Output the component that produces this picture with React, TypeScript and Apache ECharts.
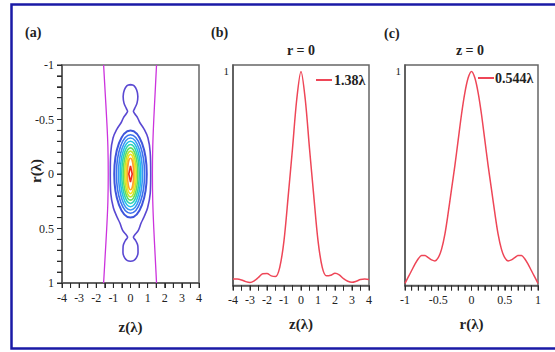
import React, { useEffect, useRef } from "react";
import * as echarts from "echarts";

// ---- Panel (b): on-axis intensity, r = 0 ----
const zB = [-4, -3.75, -3.5, -3.25, -3, -2.75, -2.5, -2.25, -2, -1.75, -1.5, -1.25, -1, -0.75, -0.5, -0.25, 0,
  0.25, 0.5, 0.75, 1, 1.25, 1.5, 1.75, 2, 2.25, 2.5, 2.75, 3, 3.25, 3.5, 3.75, 4];
const intensityB = [0.030, 0.030, 0.026, 0.018, 0.014, 0.022, 0.038, 0.055, 0.056, 0.045, 0.042, 0.085, 0.21, 0.42, 0.64, 0.87, 1.0,
  0.87, 0.64, 0.42, 0.21, 0.085, 0.045, 0.048, 0.057, 0.050, 0.032, 0.020, 0.015, 0.020, 0.028, 0.030, 0.028];

// ---- Panel (c): focal-plane intensity, z = 0 ----
const rC = [-1, -0.95, -0.9, -0.85, -0.8, -0.75, -0.7, -0.65, -0.6, -0.55, -0.5, -0.45, -0.4, -0.35, -0.3, -0.25, -0.2, -0.15, -0.1, -0.05, 0,
  0.05, 0.1, 0.15, 0.2, 0.25, 0.3, 0.35, 0.4, 0.45, 0.5, 0.55, 0.6, 0.65, 0.7, 0.75, 0.8, 0.85, 0.9, 0.95, 1];
const intensityC = [0.01, 0.04, 0.07, 0.10, 0.125, 0.14, 0.14, 0.13, 0.12, 0.115, 0.13, 0.17, 0.24, 0.34, 0.45, 0.56, 0.68, 0.80, 0.90, 0.97, 1.0,
  0.97, 0.90, 0.80, 0.68, 0.56, 0.45, 0.34, 0.24, 0.17, 0.13, 0.115, 0.12, 0.13, 0.14, 0.14, 0.125, 0.10, 0.07, 0.04, 0.01];

// ---- Panel (a): contour levels (half-widths in z and r) ----
const ellipseHalfZ = [0.95, 0.82, 0.70, 0.60, 0.51, 0.42, 0.34, 0.26, 0.18];
const ellipseHalfR = [0.40, 0.36, 0.33, 0.30, 0.27, 0.24, 0.21, 0.18, 0.145];
const ellipseColors = ["#3e55dc", "#3c72ee", "#3b95f2", "#22bfe6", "#2ed3b0", "#5fdc62", "#bde52f", "#f5df1e", "#fca22c"];
const diamondHalfZ = 0.1;
const diamondHalfR = 0.075;

// outermost (lobed) contour, traced clockwise
const outerZ = [0, 0.2, 0.36, 0.43, 0.38, 0.24, 0.17, 0.26, 0.4, 0.55, 0.8, 1.02, 1.15, 1.18, 1.15, 1.0, 0.8, 0.62, 0.45, 0.24, 0.17, 0.3, 0.43, 0.44, 0.34, 0.18, 0,
  -0.18, -0.34, -0.44, -0.43, -0.3, -0.17, -0.24, -0.45, -0.62, -0.8, -1.0, -1.15, -1.18, -1.15, -1.02, -0.8, -0.55, -0.4, -0.26, -0.17, -0.24, -0.38, -0.43, -0.36, -0.2, 0];
const outerR = [-0.82, -0.81, -0.77, -0.71, -0.65, -0.6, -0.575, -0.55, -0.52, -0.47, -0.41, -0.33, -0.2, 0, 0.18, 0.31, 0.39, 0.45, 0.52, 0.56, 0.58, 0.61, 0.66, 0.72, 0.77, 0.795, 0.8,
  0.795, 0.77, 0.72, 0.66, 0.61, 0.58, 0.56, 0.52, 0.45, 0.39, 0.31, 0.18, 0, -0.2, -0.33, -0.41, -0.47, -0.52, -0.55, -0.575, -0.6, -0.65, -0.71, -0.77, -0.81, -0.82];

// lowest level (magenta side curves)
const sideR = [-1, -0.75, -0.5, -0.25, 0, 0.25, 0.5, 0.75, 1];
const sideLeftZ = [-1.57, -1.48, -1.39, -1.32, -1.3, -1.32, -1.39, -1.48, -1.57];
const sideRightZ = [1.52, 1.44, 1.36, 1.3, 1.28, 1.3, 1.36, 1.44, 1.52];

// tick positions
const zTicks = [-4, -3.5, -3, -2.5, -2, -1.5, -1, -0.5, 0, 0.5, 1, 1.5, 2, 2.5, 3, 3.5, 4];
const rTicks = [-1, -0.9, -0.8, -0.7, -0.6, -0.5, -0.4, -0.3, -0.2, -0.1, 0, 0.1, 0.2, 0.3, 0.4, 0.5, 0.6, 0.7, 0.8, 0.9, 1];

const SERIF = "Liberation Serif";
const RED = "#ee4657";
const TICK = "#2a2a2a";

const isMultiple = (v: number, step: number) => Math.abs(v / step - Math.round(v / step)) < 1e-6;
const fmt = (step: number) => (v: number) => (isMultiple(v, step) ? String(Math.round(v * 100) / 100) : "");

function axisCommon() {
  return {
    type: "value" as const,
    splitLine: { show: false },
    axisLine: { show: true, onZero: false, lineStyle: { color: "#555", width: 1.5 } },
    axisTick: { show: true, length: 5, lineStyle: { color: TICK, width: 1 } },
    axisLabel: { fontFamily: SERIF, fontSize: 12, color: "#222", showMinLabel: true, showMaxLabel: true },
    nameTextStyle: { fontFamily: SERIF, fontSize: 15, fontWeight: "bold" as const, color: "#222" },
  };
}

function tickSeries(xi: number, yi: number, data: number[][], dx: number, dy: number) {
  return {
    type: "custom",
    xAxisIndex: xi,
    yAxisIndex: yi,
    data,
    clip: false,
    silent: true,
    z: 5,
    renderItem: (params: any, api: any) => {
      const p = api.coord([api.value(0), api.value(1)]);
      return {
        type: "line",
        shape: { x1: p[0], y1: p[1], x2: p[0] + dx, y2: p[1] + dy },
        style: { stroke: TICK, lineWidth: 1 },
      };
    },
  };
}

export default function App() {
  const ref = useRef<HTMLDivElement>(null);
  useEffect(() => {
    if (!ref.current) return;
    const chart = echarts.init(ref.current, undefined, { renderer: "svg" });
    const titleText = (text: string, x: number, y: number, align: string, size = 14, rotation = 0) => ({
      type: "text",
      x,
      y,
      rotation,
      style: {
        text,
        font: `bold ${size}px ${SERIF}`,
        fill: "#222",
        textAlign: align,
        align,
        textVerticalAlign: "middle",
        verticalAlign: "middle",
      },
    });
    const base = axisCommon();
    const option: any = {
      animation: false,
      backgroundColor: "#fff",
      grid: [
        { left: 62, top: 65, width: 137, height: 218, show: true, borderColor: "#666", borderWidth: 1.5 },
        { left: 233, top: 65, width: 136, height: 220.5, show: true, borderColor: "#666", borderWidth: 1.5 },
        { left: 405, top: 65, width: 133, height: 220.5, show: true, borderColor: "#666", borderWidth: 1.5 },
      ],
      xAxis: [
        {
          ...base, gridIndex: 0, min: -4, max: 4, interval: 0.5,
          axisLabel: { ...base.axisLabel, margin: 9, formatter: fmt(1) },
          name: "z(λ)", nameLocation: "middle", nameGap: 36,
        },
        {
          ...base, gridIndex: 1, min: -4, max: 4, interval: 0.5,
          axisLabel: { ...base.axisLabel, margin: 8, formatter: fmt(1) },
          name: "z(λ)", nameLocation: "middle", nameGap: 31,
        },
        {
          ...base, gridIndex: 2, min: -1, max: 1, interval: 0.1,
          axisLabel: { ...base.axisLabel, margin: 8, formatter: fmt(0.5) },
          name: "r(λ)", nameLocation: "middle", nameGap: 31,
        },
      ],
      yAxis: [
        {
          ...base, gridIndex: 0, min: -1, max: 1, interval: 0.1, inverse: true,
          axisLabel: { ...base.axisLabel, margin: 8, formatter: fmt(0.5) },
        },
        {
          ...base, gridIndex: 1, min: 0, max: 1.03, interval: 1,
          axisTick: { show: false },
          axisLabel: { ...base.axisLabel, fontSize: 11, margin: 4, formatter: (v: number) => (v === 1 ? "1" : "") },
        },
        {
          ...base, gridIndex: 2, min: 0, max: 1.03, interval: 1,
          axisTick: { show: false },
          axisLabel: { ...base.axisLabel, fontSize: 11, margin: 4, formatter: (v: number) => (v === 1 ? "1" : "") },
        },
      ],
      legend: [
        {
          data: ["1.38λ"], left: 316, top: 73, icon: "rect", itemWidth: 16, itemHeight: 2, padding: 0,
          textStyle: { fontFamily: SERIF, fontWeight: "bold", fontSize: 14, color: "#222", padding: [0, 0, 0, -3] },
        },
        {
          data: ["0.544λ"], left: 478, top: 71, icon: "rect", itemWidth: 16, itemHeight: 2, padding: 0,
          textStyle: { fontFamily: SERIF, fontWeight: "bold", fontSize: 14, color: "#222", padding: [0, 0, 0, -4] },
        },
      ],
      graphic: [
        {
          type: "rect",
          shape: { x: 11.5, y: 4.5, width: 600, height: 344 },
          style: { fill: "none", stroke: "#1a1aa6", lineWidth: 2.5 },
          silent: true,
        },
        titleText("(a)", 25, 32, "left"),
        titleText("(b)", 211, 32, "left"),
        titleText("(c)", 384, 33, "left"),
        titleText("r = 0", 301, 50, "center"),
        titleText("z = 0", 470, 50, "center"),
        titleText("r(λ)", 36, 171, "center", 15, Math.PI / 2),
      ],
      series: [
        {
          type: "line",
          xAxisIndex: 0, yAxisIndex: 0,
          data: sideR.map((r, i) => [sideLeftZ[i], r]),
          showSymbol: false, smooth: 0.4,
          lineStyle: { color: "#cc33dd", width: 1.3 },
          silent: true,
        },
        {
          type: "line",
          xAxisIndex: 0, yAxisIndex: 0,
          data: sideR.map((r, i) => [sideRightZ[i], r]),
          showSymbol: false, smooth: 0.4,
          lineStyle: { color: "#cc33dd", width: 1.3 },
          silent: true,
        },
        {
          type: "line",
          xAxisIndex: 0, yAxisIndex: 0,
          data: outerZ.map((z, i) => [z, outerR[i]]),
          showSymbol: false, smooth: 0.35,
          lineStyle: { color: "#5a48d2", width: 1.6 },
          silent: true,
        },
        {
          type: "custom",
          xAxisIndex: 0, yAxisIndex: 0,
          data: ellipseHalfZ.map((hz, i) => [hz, ellipseHalfR[i], i]),
          silent: true,
          renderItem: (params: any, api: any) => {
            const c = api.coord([0, 0]);
            const p = api.coord([api.value(0), api.value(1)]);
            const idx = api.value(2);
            return {
              type: "ellipse",
              shape: { cx: c[0], cy: c[1], rx: Math.abs(p[0] - c[0]), ry: Math.abs(p[1] - c[1]) },
              style: { fill: "none", stroke: ellipseColors[idx], lineWidth: idx === 0 ? 2 : 1.6 },
            };
          },
        },
        {
          type: "custom",
          xAxisIndex: 0, yAxisIndex: 0,
          data: [[diamondHalfZ, diamondHalfR]],
          silent: true,
          renderItem: (params: any, api: any) => {
            const hz = api.value(0);
            const hr = api.value(1);
            const pts = [api.coord([0, -hr]), api.coord([hz, 0]), api.coord([0, hr]), api.coord([-hz, 0])];
            return {
              type: "polygon",
              shape: { points: pts },
              style: { fill: "none", stroke: "#f02a1e", lineWidth: 1.6 },
            };
          },
        },
        tickSeries(0, 0, zTicks.map((z) => [z, 1]), 0, 5),
        tickSeries(0, 0, rTicks.map((r) => [-4, r]), -5, 0),
        tickSeries(1, 1, zTicks.map((z) => [z, 0]), 0, 5),
        tickSeries(2, 2, rTicks.map((r) => [r, 0]), 0, 5),
        {
          name: "1.38λ",
          type: "line",
          xAxisIndex: 1, yAxisIndex: 1,
          data: zB.map((z, i) => [z, intensityB[i]]),
          showSymbol: false, smooth: 0.3,
          itemStyle: { color: RED },
          lineStyle: { color: RED, width: 1.5 },
        },
        {
          name: "0.544λ",
          type: "line",
          xAxisIndex: 2, yAxisIndex: 2,
          data: rC.map((r, i) => [r, intensityC[i]]),
          showSymbol: false, smooth: 0.3,
          itemStyle: { color: RED },
          lineStyle: { color: RED, width: 1.5 },
        },
      ],
    };
    chart.setOption(option);
    return () => chart.dispose();
  }, []);
  return (
    <div
      ref={ref}
      style={{ position: "fixed", left: 0, top: 0, width: 555, height: 352, background: "#fff" }}
    />
  );
}
